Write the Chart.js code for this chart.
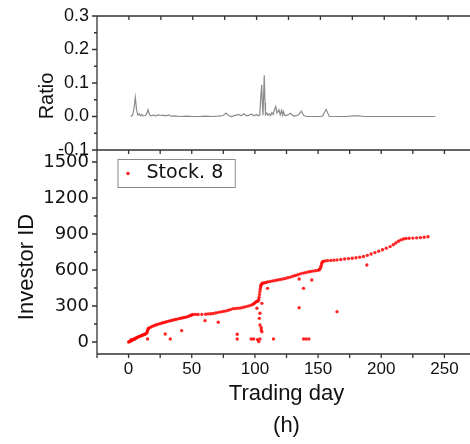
<!DOCTYPE html>
<html>
<head>
<meta charset="utf-8">
<script src="https://cdn.jsdelivr.net/npm/chart.js@4.4.1/dist/chart.umd.min.js"></script>
<style>
    html, body { margin: 0; padding: 0; background: #fff; width: 470px; height: 444px; overflow: hidden; }
    canvas { position: absolute; left: 0; }
    #ratioChart { top: 0; }
    #investorChart { top: 130px; }
</style>
</head>
<body>
<canvas id="ratioChart" width="480" height="180"></canvas>
<canvas id="investorChart" width="480" height="314"></canvas>
<script>
// top panel: share of new investors per trading day
const ratioDays = [1.5, 3, 4, 5, 6, 7, 8, 9, 10, 11, 13, 14, 15, 16, 17, 19, 21, 23, 25, 27, 29, 31, 33, 36, 40, 45, 50, 55, 60, 65, 70, 74, 76, 78, 80, 82, 84, 86, 88, 90, 92, 94, 96, 98, 100, 101, 102.5, 103.3, 104, 104.6, 105, 105.5, 106, 106.6, 107, 108, 109, 110, 111, 112, 113, 114, 115, 116, 117.5, 118.5, 119.5, 120.3, 121, 122, 124, 126.5, 128, 130, 133, 135, 137, 139, 150, 152, 153, 154.5, 156, 157, 170, 176, 180, 184, 200, 220, 240];
const ratioVals = [0, 0.005, 0.025, 0.057, 0.02, 0.004, 0.008, 0.002, 0.006, 0.002, 0.003, 0.01, 0.02, 0.006, 0.002, 0.004, 0.002, 0.005, 0.003, 0.004, 0.002, 0.005, 0.001, 0.002, 0, 0.001, 0, 0, 0.001, 0, 0.001, 0.003, 0.01, 0.003, 0, 0.002, 0.004, 0.006, 0.002, 0.008, 0.002, 0.004, 0.007, 0.002, 0.006, 0.003, 0.004, 0.06, 0.095, 0.03, 0.004, 0.06, 0.123, 0.04, 0.005, 0.01, 0.004, 0.008, 0.003, 0.012, 0.006, 0.02, 0.03, 0.01, 0.02, 0.005, 0.018, 0.004, 0.015, 0.003, 0.004, 0.01, 0.004, 0.001, 0.005, 0.016, 0.003, 0, 0, 0.002, 0.012, 0.021, 0.008, 0, 0, 0.002, 0.002, 0, 0, 0, 0];

// bottom panel: investor ID against first trading day
const mainDays = [0, 0.8, 1.6, 2.4, 3.2, 4, 4.8, 5.6, 6.4, 7.2, 8, 8.8, 9.6, 10.4, 11.2, 12, 12.8, 13.6, 14.4, 14.8, 15.2, 15.6, 16.4, 17.6, 19, 20.5, 22, 23.5, 25, 26.5, 28, 29.5, 31, 32.5, 34, 35.5, 37, 38.5, 40, 41.5, 43, 44.5, 46, 47.5, 49, 50, 51, 53, 55, 58, 61, 63, 65, 67, 69, 71, 73, 75, 77, 79, 81, 83, 85, 87, 89, 91, 93, 95, 97, 98.5, 99.5, 100.5, 101.5, 102.5, 103, 103.3, 103.6, 103.9, 104.2, 104.5, 104.8, 105.2, 105.8, 107, 108.5, 110, 112, 114, 116, 118, 120, 122, 124, 126, 128, 130, 132, 134, 136, 138, 140, 142, 144, 146, 148, 150, 151, 151.8, 152.3, 152.8, 153.3, 154, 155.5, 157.5, 160, 162.5, 165, 168, 171, 174, 177, 180, 183, 186, 189, 192, 195, 198, 201, 204, 207, 209.5, 211.5, 213.5, 215.5, 217.5, 219.5, 222, 225, 228, 231, 234, 237];
const mainIds = [0, 3, 8, 12, 17, 22, 27, 32, 36, 40, 44, 47, 51, 54, 58, 61, 65, 68, 75, 88, 100, 112, 118, 124, 132, 138, 144, 149, 153, 158, 163, 167, 172, 176, 180, 184, 188, 191, 195, 198, 202, 205, 209, 214, 221, 226, 229, 230, 229, 230, 232, 234, 236, 238, 242, 247, 251, 255, 259, 265, 272, 278, 280, 282, 284, 289, 295, 301, 307, 314, 322, 332, 338, 342, 352, 372, 395, 418, 440, 458, 472, 482, 489, 492, 496, 500, 504, 509, 513, 517, 521, 525, 529, 535, 541, 548, 554, 561, 568, 574, 578, 583, 587, 591, 594, 598, 603, 615, 632, 650, 664, 672, 676, 678, 680, 682, 684, 688, 692, 695, 698, 702, 707, 713, 722, 733, 745, 757, 769, 782, 795, 810, 825, 840, 851, 858, 862, 864, 866, 868, 870, 873, 877];
const strayDays = [2, 5, 15, 29, 33, 42, 60.5, 71, 86, 86, 97, 99, 101.6, 102, 103, 103.5, 104, 104, 104, 105, 105, 105.5, 105.5, 110, 114.7, 135, 135, 138.5, 138.5, 140.5, 142.7, 145, 165, 188.6];
const strayIds = [20, 25, 25, 67, 25, 95, 178, 164, 64, 25, 25, 25, 281, 20, 3, 197, 25, 142, 239, 100, 120, 86, 322, 447, 25, 286, 525, 447, 25, 25, 25, 517, 253, 642];

const dayTicks = [-25, 0, 25, 50, 75, 100, 125, 150, 175, 200, 225, 250, 275];
const dayLabels = [0, 50, 100, 150, 200, 250];
const ratioTicks = [-0.1, 0, 0.1, 0.2, 0.3];
const ratioMinor = [-0.05, 0.05, 0.15, 0.25];
const idTicks = [0, 300, 600, 900, 1200, 1500];
const idMinor = [150, 450, 750, 1050, 1350];

const FONT = "'Liberation Sans', Arial, sans-serif";
const WIDE = "'DejaVu Sans', sans-serif";
const INK = "#111";
const AXIS = "#333";

Chart.defaults.font.family = FONT;
Chart.defaults.color = INK;

const toPoints = (xs, ys) => xs.map((x, i) => ({ x: x, y: ys[i] }));

// frame lines, tick marks, rotated side title and the legend box
const framePlugin = {
    id: "frame",
    afterDraw(chart, args, opts) {
        const { ctx, chartArea: a, scales } = chart;
        ctx.save();
        ctx.strokeStyle = AXIS;
        ctx.lineWidth = 1.3;
        ctx.beginPath();
        ctx.moveTo(a.right, a.top);
        ctx.lineTo(a.left, a.top);
        ctx.lineTo(a.left, a.bottom);
        if (opts.bottomTicks) ctx.lineTo(a.right, a.bottom);
        opts.leftMajor.forEach(v => {
            const y = scales.y.getPixelForValue(v);
            ctx.moveTo(a.left - 5, y);
            ctx.lineTo(a.left, y);
        });
        opts.leftMinor.forEach(v => {
            const y = scales.y.getPixelForValue(v);
            ctx.moveTo(a.left - 3, y);
            ctx.lineTo(a.left, y);
        });
        dayTicks.forEach(v => {
            const x = scales.x.getPixelForValue(v);
            ctx.moveTo(x, a.top);
            ctx.lineTo(x, a.top + 4);
            if (opts.bottomTicks) {
                ctx.moveTo(x, a.bottom);
                ctx.lineTo(x, a.bottom + 4);
            }
        });
        ctx.stroke();

        const legend = chart.legend;
        if (opts.legendBox && legend && legend.legendHitBoxes && legend.legendHitBoxes.length) {
            const hb = legend.legendHitBoxes[0];
            const cy = hb.top + hb.height / 2;
            ctx.lineWidth = 1;
            ctx.strokeStyle = "#8a8a8a";
            ctx.strokeRect(hb.left - 1, cy - 14, hb.width + 13, 28);
        }

        ctx.fillStyle = INK;
        ctx.font = opts.titleSize + "px " + FONT;
        ctx.textAlign = "center";
        ctx.textBaseline = "middle";
        ctx.translate(a.left - opts.titleGap, (a.top + a.bottom) / 2 + opts.titleShift);
        ctx.rotate(-Math.PI / 2);
        ctx.fillText(opts.title, 0, 0);
        ctx.restore();
    }
};

new Chart(document.getElementById("ratioChart"), {
    type: "scatter",
    data: {
        datasets: [{
            label: "Ratio",
            data: toPoints(ratioDays, ratioVals),
            showLine: true,
            borderColor: "#8c8c8c",
            borderWidth: 1.2,
            pointRadius: 0,
            tension: 0,
        }],
    },
    options: {
        responsive: false,
        animation: false,
        devicePixelRatio: 1,
        layout: { padding: { top: 16, bottom: 30, left: 0, right: 0 } },
        plugins: {
            legend: { display: false },
            tooltip: { enabled: false },
            frame: {
                leftMajor: ratioTicks,
                leftMinor: ratioMinor,
                bottomTicks: false,
                legendBox: false,
                title: "Ratio",
                titleSize: 20,
                titleGap: 50,
                titleShift: 13,
            },
        },
        scales: {
            x: { type: "linear", min: -25, max: 275, display: false },
            y: {
                type: "linear",
                min: -0.1,
                max: 0.3,
                afterBuildTicks: s => { s.ticks = ratioTicks.map(v => ({ value: v })); },
                afterFit: s => { s.width = 97; },
                grid: { display: false, drawTicks: true, tickLength: 5 },
                border: { display: false },
                ticks: { padding: 3, font: { size: 18 }, color: INK, callback: v => v.toFixed(1) },
            },
        },
    },
    plugins: [framePlugin],
});

new Chart(document.getElementById("investorChart"), {
    type: "scatter",
    data: {
        datasets: [{
            label: "Stock. 8",
            data: toPoints(mainDays.concat(strayDays), mainIds.concat(strayIds)),
            backgroundColor: "rgba(255, 0, 0, 0.85)",
            borderWidth: 0,
            pointRadius: 1.7,
            pointStyle: "circle",
        }],
    },
    options: {
        responsive: false,
        animation: false,
        devicePixelRatio: 1,
        layout: { padding: { top: 20, bottom: 0, left: 0, right: 0 } },
        plugins: {
            legend: {
                position: "chartArea",
                align: "start",
                title: { display: true, text: " ", font: { size: 10, lineHeight: 1.2 }, padding: 0 },
                labels: {
                    usePointStyle: true,
                    boxWidth: 18,
                    boxHeight: 2.5,
                    padding: 22,
                    font: { size: 19, family: WIDE },
                    color: INK,
                },
            },
            tooltip: { enabled: false },
            frame: {
                leftMajor: idTicks,
                leftMinor: idMinor,
                bottomTicks: true,
                legendBox: true,
                title: "Investor ID",
                titleSize: 22,
                titleGap: 70,
                titleShift: 15,
            },
        },
        scales: {
            x: {
                type: "linear",
                min: -25,
                max: 275,
                afterBuildTicks: s => { s.ticks = dayTicks.map(v => ({ value: v })); },
                afterFit: s => { s.height = 90; },
                grid: { display: false, drawTicks: true, tickLength: 4 },
                border: { display: false },
                ticks: {
                    autoSkip: false,
                    maxRotation: 0,
                    padding: 1,
                    font: { size: 17 },
                    color: INK,
                    callback: v => dayLabels.includes(v) ? String(v) : "",
                },
                title: {
                    display: true,
                    text: ["Trading day", "(h)"],
                    font: { size: 22, lineHeight: 1.45 },
                    padding: { top: 0, bottom: 2 },
                    color: INK,
                },
            },
            y: {
                type: "linear",
                min: -100,
                max: 1600,
                afterBuildTicks: s => { s.ticks = idTicks.map(v => ({ value: v })); },
                afterFit: s => { s.width = 97; },
                grid: { display: false, drawTicks: true, tickLength: 5 },
                border: { display: false },
                ticks: { padding: 3, font: { size: 18, family: WIDE }, color: INK, callback: v => String(v) },
            },
        },
    },
    plugins: [framePlugin],
});
</script>
</body>
</html>
